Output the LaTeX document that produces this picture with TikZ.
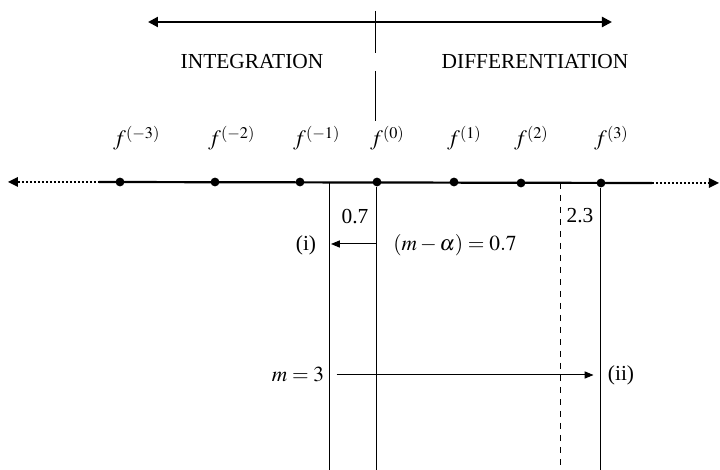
\documentclass[tikz,border=0pt]{standalone}
\usepackage{mathptmx}
\usepackage{fontspec}
\setmainfont{Liberation Serif}
\usetikzlibrary{arrows.meta,positioning}

\begin{document}
\begin{tikzpicture}[x=0.5pt,y=-0.5pt,
    dot/.style={circle, fill=black, inner sep=0pt, minimum size=4.4pt},
    lbl/.style={font=\fontsize{10.7}{12}\selectfont, inner sep=1pt},
    flbl/.style={font=\fontsize{11}{12}\selectfont, inner sep=0pt, anchor=base west},
    dirarr/.style={{Triangle[length=5pt,width=5pt]}-{Triangle[length=5pt,width=5pt]}, line width=1.1pt},
    arr/.style={-{Triangle[length=4.5pt,width=3.6pt]}, line width=0.5pt},
    axis/.style={line width=1.1pt},
    tail/.style={line width=1.4pt, dash pattern=on 1.1pt off 0.9pt},
    vline/.style={line width=0.5pt},
  ]
  \useasboundingbox (0,0) rectangle (720,470);

  % direction arrow and headings
  \coordinate (dl) at (148,22);
  \coordinate (dr) at (612,22);
  \draw[dirarr] (dl) -- (dr);
  \node[lbl] (intg) at (252,62) {INTEGRATION};
  \node[lbl] (diff) at (535,62) {DIFFERENTIATION};
  \draw[vline] (376,11) -- (376,53);
  \draw[vline] (376,71) -- (376,121);

  % order axis
  \coordinate (la) at (8,182);
  \coordinate (lb) at (99,182);
  \coordinate (rb) at (652,183);
  \coordinate (ra) at (719,183);
  \draw[axis] (lb) -- (rb);
  \draw[tail, {Triangle[length=5pt,width=5pt,line width=0pt]}-] (la) -- (lb);
  \draw[tail, -{Triangle[length=5pt,width=5pt,line width=0pt]}] (rb) -- (ra);

  \node[dot] (fm3) at (120,182) {};
  \node[dot] (fm2) at (215,182) {};
  \node[dot] (fm1) at (300,182) {};
  \node[dot] (f0)  at (377,182) {};
  \node[dot] (f1)  at (454,182) {};
  \node[dot] (f2)  at (521,183) {};
  \node[dot] (f3)  at (601,183) {};

  \node[flbl] (lm3) at (113,146) {$f^{(-3)}$};
  \node[flbl] (lm2) at (208,146) {$f^{(-2)}$};
  \node[flbl] (lm1) at (293,146) {$f^{(-1)}$};
  \node[flbl] (l0)  at (370,146) {$f^{(0)}$};
  \node[flbl] (l1)  at (447,146) {$f^{(1)}$};
  \node[flbl] (l2)  at (514,146) {$f^{(2)}$};
  \node[flbl] (l3)  at (594,146) {$f^{(3)}$};

  % verticals
  \coordinate (v1) at (330,182);
  \coordinate (v3) at (561,183);
  \coordinate (v1b) at (330,470);
  \coordinate (v2b) at (377,470);
  \coordinate (v3b) at (561,470);
  \coordinate (v4b) at (601,470);
  \draw[vline] (v1) -- (v1b);
  \draw[vline] (f0) -- (v2b);
  \draw[vline, dashed] (v3) -- (v3b);
  \draw[vline] (f3) -- (v4b);

  \node[lbl] (d07) at (355,217) {0.7};
  \node[lbl] (d23) at (580,216) {2.3};

  % case (i)
  \node[lbl] (ci) at (306,245) {(i)};
  \node[lbl] (diffm) at (455,245) {$(m-\alpha)=0.7$};
  \coordinate (ia) at (377,244);
  \coordinate (ib) at (331,244);
  \draw[arr] (ia) -- (ib);

  % case (ii)
  \node[lbl] (m3) at (298,375) {$m=3$};
  \node[lbl] (cii) at (621,375) {(ii)};
  \draw[arr, shorten <=5pt, shorten >=6pt] (m3) -- (cii);
\end{tikzpicture}
\end{document}
